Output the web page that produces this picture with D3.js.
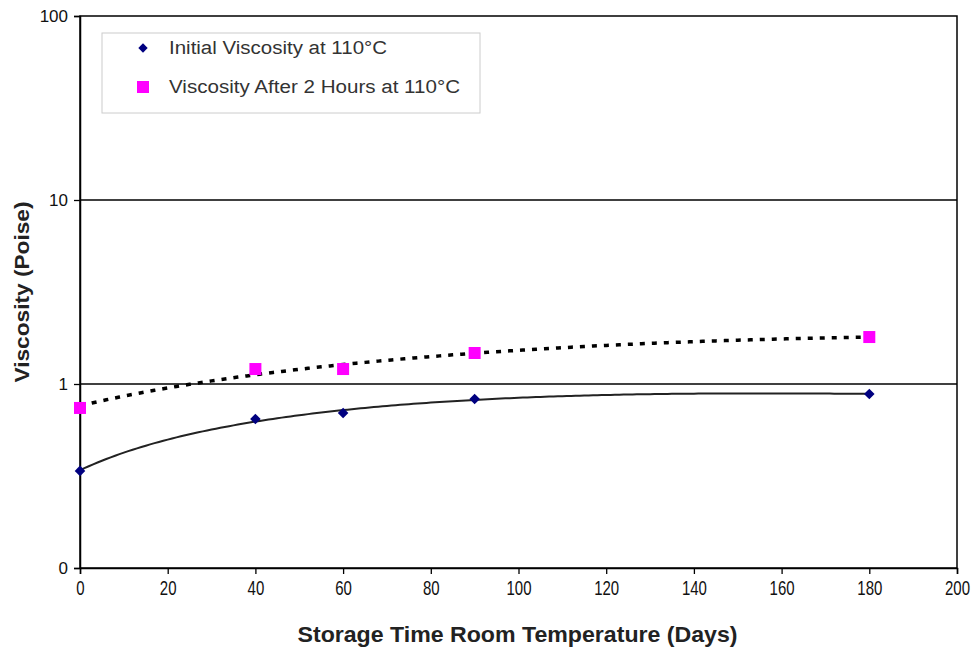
<!DOCTYPE html>
<html>
<head>
<meta charset="utf-8">
<script src="https://cdn.jsdelivr.net/npm/d3@7"></script>
<style>
  html, body { margin: 0; padding: 0; background: #fff; }
  svg { display: block; }
</style>
</head>
<body>
<svg id="chart" width="975" height="649"></svg>
<script>
// Storage time (days) at which each sample was tested
const days = [0, 40, 60, 90, 180];
// Viscosity (poise)
const initialViscosity = [0.337, 0.645, 0.695, 0.829, 0.883];
const afterTwoHours = [0.741, 1.206, 1.206, 1.474, 1.80];
const xTicks = [0, 20, 40, 60, 80, 100, 120, 140, 160, 180, 200];
const yTicks = [0.1, 1, 10, 100];
const yTickLabels = ["0", "1", "10", "100"];
const seriesNames = ["Initial Viscosity at 110°C", "Viscosity After 2 Hours at 110°C"];

const svg = d3.select("#chart");
const plotL = 80, plotR = 957, plotT = 16, plotB = 568;
const sans = "'Liberation Sans', Arial, sans-serif";

const x = d3.scaleLinear().domain([0, 200]).range([plotL, plotR]);
const y = d3.scaleLog().domain([0.1, 100]).range([plotB, plotT]);

// Least-squares polynomial fit (normal equations, Gauss-Jordan elimination)
function polyFit(xs, ys, order) {
  const n = order + 1;
  const A = Array.from({length: n}, () => new Array(n + 1).fill(0));
  xs.forEach((xv, k) => {
    for (let i = 0; i < n; i++) {
      for (let j = 0; j < n; j++) A[i][j] += Math.pow(xv, i + j);
      A[i][n] += ys[k] * Math.pow(xv, i);
    }
  });
  for (let c = 0; c < n; c++) {
    let p = c;
    for (let r = c + 1; r < n; r++) if (Math.abs(A[r][c]) > Math.abs(A[p][c])) p = r;
    [A[c], A[p]] = [A[p], A[c]];
    for (let r = 0; r < n; r++) {
      if (r === c) continue;
      const f = A[r][c] / A[c][c];
      for (let k = c; k <= n; k++) A[r][k] -= f * A[c][k];
    }
  }
  const coef = A.map((row, i) => row[n] / row[i]);
  return xv => coef.reduce((s, cf, i) => s + cf * Math.pow(xv, i), 0);
}

const fitInitial = polyFit(days, initialViscosity, 3);
const fitAfter = polyFit(days, afterTwoHours, 2);
const xsFine = d3.range(0, 180.01, 1);

// Gridlines at 1 and 10
svg.append("g").selectAll("line").data([1, 10]).join("line")
  .attr("x1", plotL).attr("x2", plotR)
  .attr("y1", d => y(d)).attr("y2", d => y(d))
  .attr("stroke", "#000").attr("stroke-width", 1.3);

// Plot frame
svg.append("rect")
  .attr("x", plotL).attr("y", plotT)
  .attr("width", plotR - plotL).attr("height", plotB - plotT)
  .attr("fill", "none").attr("stroke", "#000").attr("stroke-width", 1.5);

// Axes
const xAxis = svg.append("g")
  .attr("transform", `translate(0,${plotB})`)
  .call(d3.axisBottom(x).tickValues(xTicks).tickSize(6).tickPadding(7).tickFormat(d3.format("d")));
const yAxis = svg.append("g")
  .attr("transform", `translate(${plotL},0)`)
  .call(d3.axisLeft(y).tickValues(yTicks).tickSize(6).tickPadding(6)
    .tickFormat((d, i) => yTickLabels[i]));
[xAxis, yAxis].forEach(g => {
  g.select(".domain").attr("stroke", "#000").attr("stroke-width", 1.5);
  g.selectAll(".tick line").attr("stroke", "#000").attr("stroke-width", 1.3);
  g.selectAll("text").attr("fill", "#111").style("font-family", sans);
});
// condensed tick numerals along the time axis
xAxis.selectAll("text")
  .style("font-size", "20px")
  .attr("transform", "scale(0.75,1)");
yAxis.selectAll("text")
  .style("font-size", "17px");

// Trend lines
svg.append("path")
  .datum(xsFine)
  .attr("d", d3.line().x(d => x(d)).y(d => y(fitInitial(d))))
  .attr("fill", "none").attr("stroke", "#222").attr("stroke-width", 2);
svg.append("path")
  .datum(xsFine)
  .attr("d", d3.line().x(d => x(d)).y(d => y(fitAfter(d))))
  .attr("fill", "none").attr("stroke", "#000").attr("stroke-width", 3.5)
  .attr("stroke-dasharray", "5,7");

// Markers
const diamond = d3.symbol().type(d3.symbolSquare).size(56);
svg.append("g").selectAll("path").data(days).join("path")
  .attr("transform", (d, i) => `translate(${x(d)},${y(initialViscosity[i])}) rotate(45)`)
  .attr("d", diamond)
  .attr("fill", "#000080");
svg.append("g").selectAll("rect").data(days).join("rect")
  .attr("x", d => x(d) - 6).attr("width", 12).attr("height", 12)
  .attr("y", (d, i) => y(afterTwoHours[i]) - 6)
  .attr("fill", "#ff00ff");

// Legend
const lg = svg.append("g");
lg.append("rect").attr("x", 102).attr("y", 33).attr("width", 378).attr("height", 80)
  .attr("fill", "#fff").attr("stroke", "#ccc").attr("stroke-width", 1);
lg.append("path").attr("transform", "translate(143,48) rotate(45)")
  .attr("d", d3.symbol().type(d3.symbolSquare).size(44)).attr("fill", "#000080");
lg.append("rect").attr("x", 137).attr("y", 81).attr("width", 12).attr("height", 12).attr("fill", "#ff00ff");
lg.selectAll("text").data(seriesNames).join("text")
  .attr("x", 169).attr("y", (d, i) => [48, 87][i]).attr("dy", "0.35em")
  .attr("textLength", (d, i) => [218, 291][i]).attr("lengthAdjust", "spacingAndGlyphs")
  .style("font-family", sans).style("font-size", "18px")
  .attr("fill", "#333").text(d => d);

// Axis titles
svg.append("text")
  .attr("x", (plotL + plotR) / 2 - 1).attr("y", 642)
  .attr("text-anchor", "middle")
  .attr("textLength", 440).attr("lengthAdjust", "spacingAndGlyphs")
  .style("font-family", sans)
  .style("font-size", "22px").style("font-weight", "bold").attr("fill", "#222")
  .text("Storage Time Room Temperature (Days)");
svg.append("text")
  .attr("transform", `translate(29,292) rotate(-90)`)
  .attr("text-anchor", "middle")
  .attr("textLength", 181).attr("lengthAdjust", "spacingAndGlyphs")
  .style("font-family", sans)
  .style("font-size", "20px").style("font-weight", "bold").attr("fill", "#222")
  .text("Viscosity (Poise)");
</script>
</body>
</html>
